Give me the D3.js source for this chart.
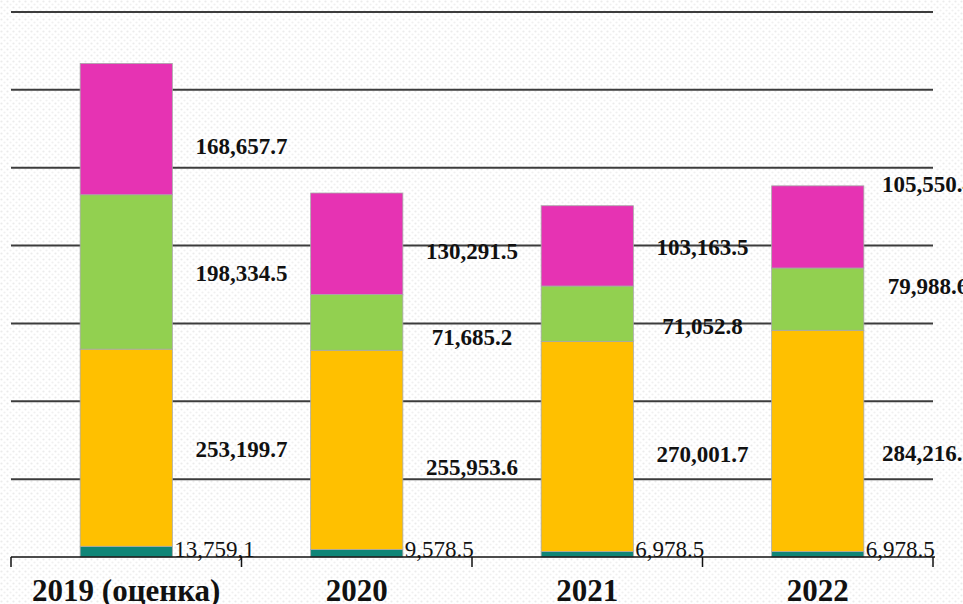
<!DOCTYPE html>
<html>
<head>
<meta charset="utf-8">
<script src="https://cdn.jsdelivr.net/npm/d3@7"></script>
<style>
  html, body { margin: 0; padding: 0; background: #fff; }
  svg { display: block; }
  .val { font-family: "Liberation Serif", "Times New Roman", serif; font-weight: bold; font-size: 23px; fill: #111; }
  .small { font-family: "Liberation Serif", "Times New Roman", serif; font-size: 23px; fill: #111; }
  .cat { font-family: "Liberation Serif", "Times New Roman", serif; font-weight: bold; font-size: 31px; fill: #111; }
</style>
</head>
<body>
<svg id="chart" width="963" height="604"></svg>
<script>
// data
const years = ['2019 (оценка)', '2020', '2021', '2022']
const teal = [13759.1, 9578.5, 6978.5, 6978.5]
const orange = [253199.7, 255953.6, 270001.7, 284216.3]
const green = [198334.5, 71685.2, 71052.8, 79988.6]
const pink = [168657.7, 130291.5, 103163.5, 105550.4]
const tealText = ['13,759,1', '9,578.5', '6,978.5', '6,978.5']
const gridTicks = [0, 100000, 200000, 300000, 400000, 500000, 600000, 700000]

const seriesKeys = ['teal', 'orange', 'green', 'pink']
const colors = { teal: '#0f8577', orange: '#ffc000', green: '#92d050', pink: '#e633b3' }

// labels were dragged around by hand in the original, nudge them vertically
const labelDy = {
  orange: [1, 17, 8, 12],
  green: [1, 15, 12, -13],
  pink: [17, 7, 1, -43]
}

const rows = years.map((y, i) => ({
  year: y, teal: teal[i], orange: orange[i], green: green[i], pink: pink[i]
}))

const svg = d3.select('#chart')
const mLeft = 11, mRight = 933, base = 557, mTop = 12

// faint dotted texture in background
const defs = svg.append('defs')
const pat = defs.append('pattern')
    .attr('id', 'dots').attr('width', 6).attr('height', 6)
    .attr('patternUnits', 'userSpaceOnUse')
pat.append('circle').attr('cx', 1.5).attr('cy', 1.5).attr('r', 1.1).attr('fill', '#ebebeb')
pat.append('circle').attr('cx', 4.5).attr('cy', 4.5).attr('r', 1.1).attr('fill', '#f0f0f0')
svg.append('rect').attr('width', 963).attr('height', 604).attr('fill', 'url(#dots)')

const x = d3.scaleBand().domain(years).range([mLeft, mRight]).paddingInner(0.6).paddingOuter(0.3)
const y = d3.scaleLinear().domain([0, 700000]).range([base, mTop])

// gridlines
svg.append('g').selectAll('line')
    .data(gridTicks.filter(d => d > 0))
    .join('line')
    .attr('x1', mLeft).attr('x2', mRight)
    .attr('y1', d => y(d)).attr('y2', d => y(d))
    .attr('stroke', '#3c3c3c').attr('stroke-width', 2)

const stack = d3.stack().keys(seriesKeys)
const layers = stack(rows)

svg.append('g').selectAll('g')
    .data(layers)
    .join('g')
    .attr('fill', d => colors[d.key])
    .selectAll('rect')
    .data(d => d)
    .join('rect')
    .attr('x', d => x(d.data.year))
    .attr('width', x.bandwidth())
    .attr('y', d => y(d[1]))
    .attr('height', d => y(d[0]) - y(d[1]))
    .attr('stroke', '#a8a8a8').attr('stroke-width', 0.8)

// axis line with ticks at band edges
const bandW = (mRight - mLeft) / years.length
const edges = d3.range(years.length + 1).map(i => mLeft + i * bandW)
svg.append('line')
    .attr('x1', mLeft).attr('x2', mRight + 2)
    .attr('y1', base).attr('y2', base)
    .attr('stroke', '#111').attr('stroke-width', 1.5)
svg.append('g').selectAll('line')
    .data(edges)
    .join('line')
    .attr('x1', d => d).attr('x2', d => d)
    .attr('y1', base).attr('y2', base + 10)
    .attr('stroke', '#111').attr('stroke-width', 1.5)

// value labels centred on the band edge to the right of each bar
const edgeOf = yr => x(yr) + x.bandwidth() / 2 + bandW / 2
layers.filter(l => l.key !== 'teal').forEach(l => {
  svg.append('g').selectAll('text')
      .data(l)
      .join('text')
      .attr('class', 'val')
      .attr('text-anchor', 'middle')
      .attr('x', (d, i) => edgeOf(d.data.year) - (i === 3 ? 5 : 0))
      .attr('y', (d, i) => (y(d[0]) + y(d[1])) / 2 + 8 + labelDy[l.key][i])
      .text(d => d3.format(',.1f')(d[1] - d[0]))
})

svg.append('g').selectAll('text')
    .data(years)
    .join('text')
    .attr('class', 'small')
    .attr('x', d => x(d) + x.bandwidth() + 2)
    .attr('y', base)
    .text((d, i) => tealText[i])

// category labels
svg.append('g').selectAll('text')
    .data(years)
    .join('text')
    .attr('class', 'cat')
    .attr('text-anchor', 'middle')
    .attr('x', d => x(d) + x.bandwidth() / 2)
    .attr('y', 601)
    .text(d => d)
</script>
</body>
</html>
